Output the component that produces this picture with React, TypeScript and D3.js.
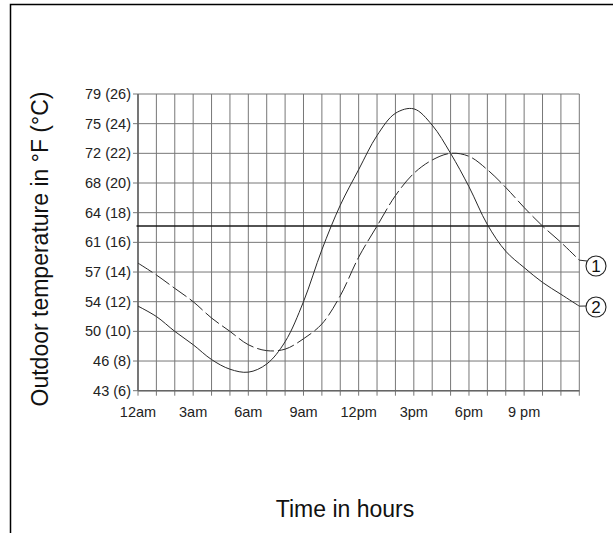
import React from "react";
import * as d3 from "d3";

const hours = [0, 1, 2, 3, 4, 5, 6, 7, 8, 9, 10, 11, 12, 13, 14, 15, 16, 17, 18, 19, 20, 21, 22, 23, 24];
// curve 1 (dashed), °C
const curve1 = [14.6, 13.8, 12.9, 12.0, 10.9, 10.0, 9.1, 8.7, 8.8, 9.5, 10.5, 12.4, 15.0, 17.1, 19.15, 20.65, 21.55, 22.0, 21.8, 20.9, 19.7, 18.35, 17.1, 16.0, 14.8];
// curve 2 (solid), °C
const curve2 = [11.7, 11.0, 10.0, 9.1, 8.1, 7.45, 7.25, 7.8, 9.3, 12.0, 15.5, 18.5, 20.9, 23.2, 24.7, 25.0, 23.9, 22.0, 19.75, 17.2, 15.4, 14.3, 13.3, 12.5, 11.7];
const yTickValues = [6, 8, 10, 12, 14, 16, 18, 20, 22, 24, 26];
const yTickLabels = ["43 (6)", "46 (8)", "50 (10)", "54 (12)", "57 (14)", "61 (16)", "64 (18)", "68 (20)", "72 (22)", "75 (24)", "79 (26)"];
const xTickValues = [0, 3, 6, 9, 12, 15, 18, 21];
const xTickLabels = ["12am", "3am", "6am", "9am", "12pm", "3pm", "6pm", "9 pm"];
const thresholdC = 17.1;
const seriesLabels = ["1", "2"];

const W = 613;
const H = 533;
const FONT = "'Liberation Sans', Arial, Helvetica, sans-serif";

export default function App() {
  const x = d3.scaleLinear().domain([0, 24]).range([138, 579.3]);
  const y = d3.scaleLinear().domain([6, 26]).range([390.7, 94]);
  const gridX = d3.range(0, 25);
  const line = (vals: number[]) =>
    d3
      .line<number>()
      .x((_, i) => x(hours[i]))
      .y((d) => y(d))
      .curve(d3.curveCatmullRom.alpha(0.5))(vals) as string;

  const grid = "#777";
  return (
    <svg
      width={W}
      height={H}
      style={{ position: "absolute", left: 0, top: 0, background: "#fff" }}
      fontFamily={FONT}
    >
      <rect x={10.5} y={4.5} width={620} height={560} fill="none" stroke="#000" strokeWidth={1.5} />
      {/* vertical grid */}
      {gridX.map((h) => (
        <line key={"vx" + h} x1={x(h)} x2={x(h)} y1={y(26)} y2={y(6) + 5} stroke={grid} strokeWidth={1} />
      ))}
      {/* horizontal grid */}
      {yTickValues.map((v) => (
        <line key={"hy" + v} x1={x(0) - 5} x2={x(24)} y1={y(v)} y2={y(v)} stroke={grid} strokeWidth={1} />
      ))}
      {/* axes */}
      <line x1={x(0)} x2={x(0)} y1={y(26)} y2={y(6)} stroke="#666" strokeWidth={1.6} />
      <line x1={x(0)} x2={x(24)} y1={y(6)} y2={y(6)} stroke="#666" strokeWidth={1.6} />
      {/* threshold */}
      <line x1={x(0) - 1.5} x2={x(24)} y1={y(thresholdC)} y2={y(thresholdC)} stroke="#1a1a1a" strokeWidth={1.4} />
      {/* curves */}
      <path d={line(curve1)} fill="none" stroke="#2a2a2a" strokeWidth={1} strokeDasharray="17,4" />
      <path d={line(curve2)} fill="none" stroke="#2a2a2a" strokeWidth={1} />
      {/* y tick labels */}
      {yTickValues.map((v, i) => (
        <text key={"yl" + v} x={131} y={y(v)} dy="0.35em" textAnchor="end" fontSize={14.5} fill="#222">
          {yTickLabels[i]}
        </text>
      ))}
      {/* x tick labels */}
      {xTickValues.map((v, i) => (
        <text key={"xl" + v} x={x(v)} y={416.7} textAnchor="middle" fontSize={14.5} fill="#222">
          {xTickLabels[i]}
        </text>
      ))}
      {/* series markers */}
      {[curve1, curve2].map((c, i) => {
        const cy = i === 0 ? 266 : 307;
        return (
          <g key={"m" + i}>
            <line x1={x(24)} y1={y(c[c.length - 1])} x2={587} y2={cy - (i === 0 ? 5 : 1)} stroke="#2a2a2a" strokeWidth={1} />
            <circle cx={596} cy={cy} r={10} fill="#fff" stroke="#222" strokeWidth={1.1} />
            <text x={596} y={cy} dy="0.36em" textAnchor="middle" fontSize={17} fill="#111">
              {seriesLabels[i]}
            </text>
          </g>
        );
      })}
      {/* axis titles */}
      <text transform="translate(48,249) rotate(-90)" textAnchor="middle" fontSize={23} fill="#111">
        Outdoor temperature in °F (°C)
      </text>
      <text x={345} y={517} textAnchor="middle" fontSize={23} fill="#111">
        Time in hours
      </text>
    </svg>
  );
}
